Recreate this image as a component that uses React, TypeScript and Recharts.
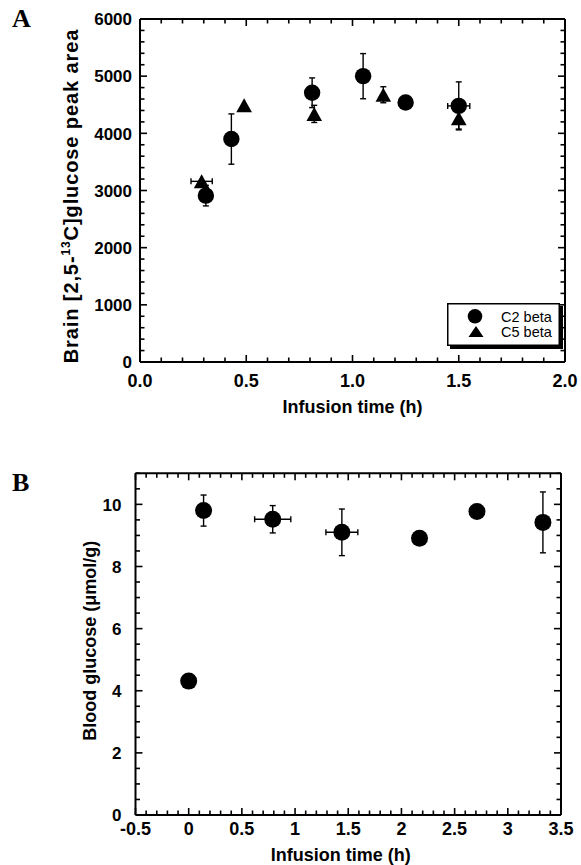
import { ScatterChart, Scatter, XAxis, YAxis, ErrorBar, Legend, ReferenceLine } from "recharts";

const FONT = '"Liberation Sans", Arial, Helvetica, sans-serif';

// Panel A: brain [2,5-13C]glucose peak area
const c2Time = [0.31, 0.43, 0.81, 1.05, 1.25, 1.5];
const c2Area = [2910, 3900, 4710, 5000, 4540, 4480];
const c2AreaErr = [180, 440, 260, 395, 0, 420];
const c2TimeErr = [0, 0, 0, 0, 0, 0.052];

const c5Time = [0.29, 0.49, 0.82, 1.145, 1.5];
const c5Area = [3160, 4490, 4340, 4675, 4265];
const c5AreaErr = [0, 0, 150, 140, 190];
const c5TimeErr = [0.05, 0, 0, 0, 0];

// Panel B: blood glucose
const bloodTime = [0, 0.14, 0.79, 1.44, 2.17, 2.71, 3.33];
const bloodGlucose = [4.31, 9.8, 9.52, 9.1, 8.91, 9.77, 9.42];
const bloodGlucoseErr = [0, 0.5, 0.44, 0.75, 0, 0, 0.98];
const bloodTimeErr = [0, 0, 0.17, 0.15, 0, 0, 0];

// axis tick labels
const aXMajor = [0, 0.5, 1, 1.5, 2];
const aYMajor = [0, 1000, 2000, 3000, 4000, 5000, 6000];
const bXMajor = [-0.5, 0, 0.5, 1, 1.5, 2, 2.5, 3, 3.5];
const bYMajor = [0, 2, 4, 6, 8, 10];

const legendItems = ["C2 beta", "C5 beta"];

function steps(start: number, end: number, step: number) {
  const n = Math.round((end - start) / step);
  const out: number[] = [];
  for (let i = 0; i <= n; i++) out.push(Math.round((start + i * step) * 1000) / 1000);
  return out;
}

const aXTicks = steps(0, 2, 0.1);
const aYTicks = steps(0, 6000, 200);
const bXTicks = steps(-0.5, 3.5, 0.1);
const bYTicks = steps(0, 11, 0.5);

const rowsC2 = c2Time.map((x, i) => ({ x, y: c2Area[i], ey: c2AreaErr[i], ex: c2TimeErr[i] }));
const rowsC5 = c5Time.map((x, i) => ({ x, y: c5Area[i], ey: c5AreaErr[i], ex: c5TimeErr[i] }));
const rowsBlood = bloodTime.map((x, i) => ({ x, y: bloodGlucose[i], ey: bloodGlucoseErr[i], ex: bloodTimeErr[i] }));

const isMajor = (majors: number[], v: number) => majors.some((m) => Math.abs(m - v) < 1e-6);

// tick labels only; the tick marks are drawn by ReferenceLine shapes below
function tickLabel(side: "bottom" | "left", majors: number[], fmt: (v: number) => string, fontSize: number, gap: number) {
  return (props: any) => {
    const x = Number(props.x);
    const y = Number(props.y);
    const v = Number(props.payload.value);
    if (!isMajor(majors, v)) return <g />;
    return side === "bottom" ? (
      <text x={x} y={y + gap} textAnchor="middle" fontFamily={FONT} fontWeight={700} fontSize={fontSize} fill="#000">
        {fmt(v)}
      </text>
    ) : (
      <text x={x - gap} y={y} dy="0.37em" textAnchor="end" fontFamily={FONT} fontWeight={700} fontSize={fontSize} fill="#000">
        {fmt(v)}
      </text>
    );
  };
}

// inward tick marks at both ends of a (not drawn) reference line
const vTicks = (len: number) => (p: any) => {
  const x = Number(p.x1);
  const ya = Math.min(Number(p.y1), Number(p.y2));
  const yb = Math.max(Number(p.y1), Number(p.y2));
  return (
    <g>
      <line x1={x} x2={x} y1={ya} y2={ya + len} stroke="#000" strokeWidth={1.6} />
      <line x1={x} x2={x} y1={yb} y2={yb - len} stroke="#000" strokeWidth={1.6} />
    </g>
  );
};
const hTicks = (len: number) => (p: any) => {
  const y = Number(p.y1);
  const xa = Math.min(Number(p.x1), Number(p.x2));
  const xb = Math.max(Number(p.x1), Number(p.x2));
  return (
    <g>
      <line x1={xa} x2={xa + len} y1={y} y2={y} stroke="#000" strokeWidth={1.6} />
      <line x1={xb} x2={xb - len} y1={y} y2={y} stroke="#000" strokeWidth={1.6} />
    </g>
  );
};

const circleShape = (r: number) => (p: any) => <circle cx={p.cx} cy={p.cy} r={r} fill="#000" />;
const triangleShape = (p: any) => (
  <polygon points={`${p.cx},${p.cy - 7} ${p.cx - 7.8},${p.cy + 7} ${p.cx + 7.8},${p.cy + 7}`} fill="#000" />
);

const frame = { stroke: "#000", strokeWidth: 2 };

function LegendBox() {
  return (
    <svg width={118} height={48}>
      <rect x={3} y={3} width={113} height={43} fill="#000" />
      <rect x={0.75} y={0.75} width={111.5} height={41.5} fill="#fff" stroke="#000" strokeWidth={1.5} />
      <circle cx={28} cy={13.3} r={7.3} fill="#000" />
      <polygon points="29,23 21.5,34 36.5,34" fill="#000" />
      {legendItems.map((name, i) => (
        <text key={name} x={54} y={18.8 + i * 15} fontFamily={FONT} fontSize={14.5} fill="#000">
          {name}
        </text>
      ))}
    </svg>
  );
}

function PanelA() {
  return (
    <ScatterChart width={581} height={430} margin={{ top: 18, left: 139, right: 15, bottom: 67 }}>
      <XAxis
        type="number"
        dataKey="x"
        domain={[0, 2]}
        allowDataOverflow
        ticks={aXTicks}
        interval={0}
        height={1}
        tickSize={0}
        tickMargin={0}
        tickLine={false}
        axisLine={frame}
        tick={tickLabel("bottom", aXMajor, (v) => v.toFixed(1), 18, 24.5)}
        label={{
          content: (p: any) => {
            const vb = p.viewBox || { x: 140, y: 362, width: 425 };
            return (
              <text x={vb.x + vb.width / 2} y={vb.y + 51} textAnchor="middle" fontFamily={FONT} fontWeight={700} fontSize={18}>
                Infusion time (h)
              </text>
            );
          },
        }}
      />
      <XAxis xAxisId="top" orientation="top" type="number" domain={[0, 2]} allowDataOverflow ticks={aXTicks} interval={0} height={1} tickSize={0} tick={false} tickLine={false} axisLine={frame} />
      <YAxis
        type="number"
        dataKey="y"
        domain={[0, 6000]}
        allowDataOverflow
        ticks={aYTicks}
        interval={0}
        width={1}
        tickSize={0}
        tickMargin={0}
        tickLine={false}
        axisLine={frame}
        tick={tickLabel("left", aYMajor, (v) => String(v), 17, 8)}
        label={{
          content: (p: any) => {
            const vb = p.viewBox || { x: 139, y: 19, height: 343 };
            const cx = vb.x - 68;
            const cy = vb.y + vb.height / 2 + 5.5;
            return (
              <text x={cx} y={cy} transform={`rotate(-90 ${cx} ${cy})`} dy="0.36em" textAnchor="middle" fontFamily={FONT} fontWeight={700} fontSize={20} letterSpacing={0.9}>
                Brain [2,5-<tspan dy={-8} fontSize={12}>13</tspan>
                <tspan dy={8}>C]glucose peak area</tspan>
              </text>
            );
          },
        }}
      />
      <YAxis yAxisId="right" orientation="right" type="number" domain={[0, 6000]} allowDataOverflow ticks={aYTicks} interval={0} width={1} tickSize={0} tick={false} tickLine={false} axisLine={frame} />
      {aXTicks.map((v) => (
        <ReferenceLine key={`ax${v}`} x={v} ifOverflow="visible" shape={vTicks(isMajor(aXMajor, v) ? 7 : 4.5)} />
      ))}
      {aYTicks.map((v) => (
        <ReferenceLine key={`ay${v}`} y={v} ifOverflow="visible" shape={hTicks(isMajor(aYMajor, v) ? 7 : 4.5)} />
      ))}
      <Legend
        layout="vertical"
        align="center"
        verticalAlign="middle"
        wrapperStyle={{ left: 447, top: 303, width: 118, height: 48 }}
        content={() => <LegendBox />}
      />
      <Scatter name="C2 beta" data={rowsC2} shape={circleShape(8.2)} isAnimationActive={false}>
        <ErrorBar dataKey="ey" direction="y" width={3} stroke="#000" strokeWidth={1.4} />
        <ErrorBar dataKey="ex" direction="x" width={3} stroke="#000" strokeWidth={1.4} />
      </Scatter>
      <Scatter name="C5 beta" data={rowsC5} shape={triangleShape} isAnimationActive={false}>
        <ErrorBar dataKey="ey" direction="y" width={3} stroke="#000" strokeWidth={1.4} />
        <ErrorBar dataKey="ex" direction="x" width={3} stroke="#000" strokeWidth={1.4} />
      </Scatter>
    </ScatterChart>
  );
}

function PanelB() {
  return (
    <ScatterChart width={581} height={435} margin={{ top: 42.3, left: 134.5, right: 19, bottom: 49 }}>
      <XAxis
        type="number"
        dataKey="x"
        domain={[-0.5, 3.5]}
        allowDataOverflow
        ticks={bXTicks}
        interval={0}
        height={1}
        tickSize={0}
        tickMargin={0}
        tickLine={false}
        axisLine={frame}
        tick={tickLabel("bottom", bXMajor, (v) => String(v), 18, 20)}
        label={{
          content: (p: any) => {
            const vb = p.viewBox || { x: 135.5, y: 385, width: 425.5 };
            return (
              <text x={vb.x + vb.width / 2 - 7.5} y={vb.y + 46} textAnchor="middle" fontFamily={FONT} fontWeight={700} fontSize={18}>
                Infusion time (h)
              </text>
            );
          },
        }}
      />
      <XAxis xAxisId="top" orientation="top" type="number" domain={[-0.5, 3.5]} allowDataOverflow ticks={bXTicks} interval={0} height={1} tickSize={0} tick={false} tickLine={false} axisLine={frame} />
      <YAxis
        type="number"
        dataKey="y"
        domain={[0, 11]}
        allowDataOverflow
        ticks={bYTicks}
        interval={0}
        width={1}
        tickSize={0}
        tickMargin={0}
        tickLine={false}
        axisLine={frame}
        tick={tickLabel("left", bYMajor, (v) => String(v), 17, 14)}
        label={{
          content: (p: any) => {
            const vb = p.viewBox || { x: 134.5, y: 43.3, height: 341.7 };
            const cx = vb.x - 44.5;
            const cy = vb.y + vb.height / 2 - 3.5;
            return (
              <text x={cx} y={cy} transform={`rotate(-90 ${cx} ${cy})`} dy="0.36em" textAnchor="middle" fontFamily={FONT} fontWeight={700} fontSize={18}>
                Blood glucose (μmol/g)
              </text>
            );
          },
        }}
      />
      <YAxis yAxisId="right" orientation="right" type="number" domain={[0, 11]} allowDataOverflow ticks={bYTicks} interval={0} width={1} tickSize={0} tick={false} tickLine={false} axisLine={frame} />
      {bXTicks.map((v) => (
        <ReferenceLine key={`bx${v}`} x={v} ifOverflow="visible" shape={vTicks(isMajor(bXMajor, v) ? 7 : 4.5)} />
      ))}
      {bYTicks.map((v) => (
        <ReferenceLine key={`by${v}`} y={v} ifOverflow="visible" shape={hTicks(isMajor(bYMajor, v) ? 7 : 4.5)} />
      ))}
      <Scatter name="Blood glucose" data={rowsBlood} shape={circleShape(8.5)} isAnimationActive={false}>
        <ErrorBar dataKey="ey" direction="y" width={3} stroke="#000" strokeWidth={1.4} />
        <ErrorBar dataKey="ex" direction="x" width={3} stroke="#000" strokeWidth={1.4} />
      </Scatter>
    </ScatterChart>
  );
}

const panelLetter = {
  position: "absolute" as const,
  left: 12,
  fontFamily: '"Liberation Serif", "Times New Roman", serif',
  fontWeight: 700,
  fontSize: 26,
  lineHeight: "26px",
};

export default function App() {
  return (
    <div style={{ position: "absolute", left: 0, top: 0, width: 581, height: 865, background: "#fff", overflow: "hidden" }}>
      <div style={{ position: "absolute", left: 0, top: 0 }}>
        <PanelA />
      </div>
      <div style={{ position: "absolute", left: 0, top: 430 }}>
        <PanelB />
      </div>
      <div style={{ ...panelLetter, top: 6 }}>A</div>
      <div style={{ ...panelLetter, top: 470 }}>B</div>
    </div>
  );
}
